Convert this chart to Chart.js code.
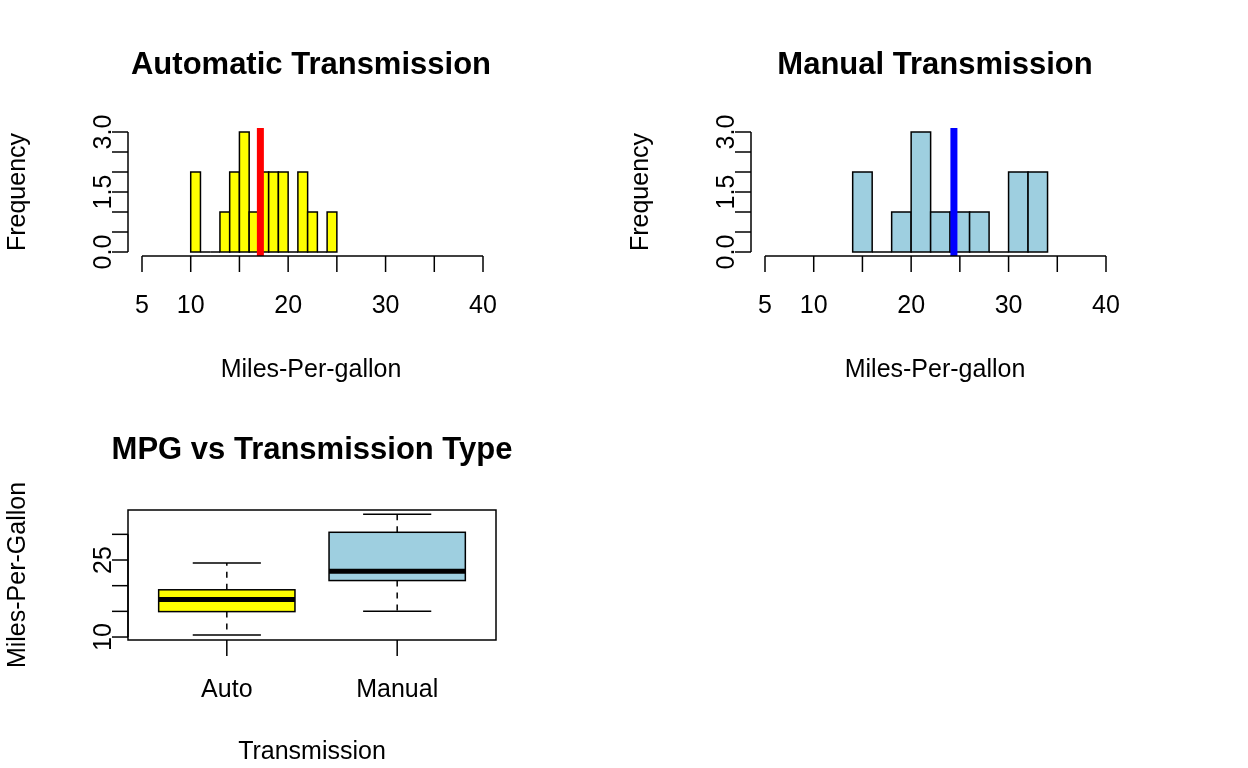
<!DOCTYPE html>
<html>
<head>
<meta charset="utf-8">
<script src="https://cdn.jsdelivr.net/npm/chart.js@4"></script>
<style>
  body { margin: 0; background: #fff; }
  .wrap { position: absolute; left: 0; top: 0; width: 1248px; height: 768px; }
  canvas { position: absolute; left: 0; top: 0; }
</style>
</head>
<body>
<div class="wrap"><canvas id="c1"></canvas></div>
<div class="wrap"><canvas id="c2"></canvas></div>
<div class="wrap"><canvas id="c3"></canvas></div>
<script>
// histogram bins (left edge, right edge, count)
const autoBinLo  = [10, 11, 12, 13, 14, 15, 16, 17, 18, 19, 20, 21, 22, 23, 24];
const autoCounts = [ 2,  0,  0,  1,  2,  3,  1,  2,  2,  2,  0,  2,  1,  0,  1];
const autoBinW = 1;
const autoMean = 17.15;

const manBinLo  = [14, 16, 18, 20, 22, 24, 26, 28, 30, 32];
const manCounts = [ 2,  0,  1,  3,  1,  1,  1,  0,  2,  2];
const manBinW = 2;
const manMean = 24.39;

const histXTicks = [5, 10, 15, 20, 25, 30, 35, 40];
const histXLabels = ['5', '10', '', '20', '', '30', '', '40'];
const histYTicks = [0, 0.5, 1, 1.5, 2, 2.5, 3];
const histYLabels = ['0.0', '', '', '1.5', '', '', '3.0'];

// boxplot stats: min, q1, median, q3, max
const boxCats = ['Auto', 'Manual'];
const boxMin = [10.4, 15.0];
const boxQ1  = [14.95, 21.0];
const boxMed = [17.3, 22.8];
const boxQ3  = [19.2, 30.4];
const boxMax = [24.4, 33.9];
const boxYTicks = [10, 15, 20, 25, 30];
const boxYLabels = ['10', '', '', '25', ''];

const FONT = '"Liberation Sans", Arial, sans-serif';

function text(ctx, s, x, y, size, bold, rot) {
  ctx.save();
  ctx.translate(x, y);
  if (rot) ctx.rotate(-Math.PI / 2);
  ctx.font = (bold ? 'bold ' : '') + size + 'px ' + FONT;
  ctx.fillStyle = '#000';
  ctx.textAlign = 'center';
  ctx.textBaseline = 'middle';
  ctx.fillText(s, 0, 0);
  ctx.restore();
}

// R base-graphics style drawing through the chart scales
const rPlot = {
  id: 'rPlot',
  afterDatasetsDraw(chart, args, o) {
    const ctx = chart.ctx, xs = chart.scales.x, ys = chart.scales.y;
    const a = chart.chartArea;
    ctx.save();
    ctx.lineWidth = 1.5;
    ctx.strokeStyle = '#000';
    if (o.hist) {
      const h = o.hist;
      h.lo.forEach((lo, i) => {
        const x0 = xs.getPixelForValue(lo), x1 = xs.getPixelForValue(lo + h.w);
        const y0 = ys.getPixelForValue(0), y1 = ys.getPixelForValue(h.counts[i]);
        ctx.fillStyle = h.color;
        ctx.fillRect(x0, y1, x1 - x0, y0 - y1);
        ctx.strokeRect(x0, y1, x1 - x0, y0 - y1);
      });
      ctx.fillStyle = h.lineColor;
      const mx = xs.getPixelForValue(h.mean);
      ctx.fillRect(mx - 3.5, ys.getPixelForValue(3.1), 7, ys.getPixelForValue(-0.1) - ys.getPixelForValue(3.1));
    }
    if (o.box) {
      const b = o.box;
      b.cats.forEach((c, i) => {
        const cx = xs.getPixelForValue(i + 1);
        const hw = xs.getPixelForValue(1.4) - xs.getPixelForValue(1);
        const sw = xs.getPixelForValue(1.2) - xs.getPixelForValue(1);
        const p = v => ys.getPixelForValue(v);
        ctx.setLineDash([6, 6]);
        ctx.beginPath();
        ctx.moveTo(cx, p(b.q3[i])); ctx.lineTo(cx, p(b.max[i]));
        ctx.moveTo(cx, p(b.q1[i])); ctx.lineTo(cx, p(b.min[i]));
        ctx.stroke();
        ctx.setLineDash([]);
        ctx.beginPath();
        ctx.moveTo(cx - sw, p(b.max[i])); ctx.lineTo(cx + sw, p(b.max[i]));
        ctx.moveTo(cx - sw, p(b.min[i])); ctx.lineTo(cx + sw, p(b.min[i]));
        ctx.stroke();
        ctx.fillStyle = b.colors[i];
        ctx.fillRect(cx - hw, p(b.q3[i]), 2 * hw, p(b.q1[i]) - p(b.q3[i]));
        ctx.strokeRect(cx - hw, p(b.q3[i]), 2 * hw, p(b.q1[i]) - p(b.q3[i]));
        ctx.lineWidth = 5;
        ctx.beginPath();
        ctx.moveTo(cx - hw, p(b.med[i])); ctx.lineTo(cx + hw, p(b.med[i]));
        ctx.stroke();
        ctx.lineWidth = 1.5;
      });
      ctx.strokeRect(a.left, a.top, a.right - a.left, a.bottom - a.top);
    }
    // x axis
    const xTickPx = o.xTicks.map(v => xs.getPixelForValue(v));
    const xAxY = a.bottom + o.xOff;
    if (o.xLine) {
      ctx.beginPath();
      ctx.moveTo(xTickPx[0], xAxY); ctx.lineTo(xTickPx[xTickPx.length - 1], xAxY);
      ctx.stroke();
    }
    xTickPx.forEach((px, i) => {
      ctx.beginPath(); ctx.moveTo(px, xAxY); ctx.lineTo(px, xAxY + 16); ctx.stroke();
      if (o.xLabels[i]) text(ctx, o.xLabels[i], px, xAxY + 50, 25, false, false);
    });
    // y axis
    const yTickPx = o.yTicks.map(v => ys.getPixelForValue(v));
    const yAxX = a.left - o.yOff;
    if (o.yLine) {
      ctx.beginPath();
      ctx.moveTo(yAxX, yTickPx[0]); ctx.lineTo(yAxX, yTickPx[yTickPx.length - 1]);
      ctx.stroke();
    }
    yTickPx.forEach((py, i) => {
      ctx.beginPath(); ctx.moveTo(yAxX, py); ctx.lineTo(yAxX - 16, py); ctx.stroke();
      if (o.yLabels[i]) text(ctx, o.yLabels[i], yAxX - 24, py, 25, false, true);
    });
    text(ctx, o.title, o.cx, o.titleY, 31, true, false);
    text(ctx, o.xlab, o.cx, o.xlabY, 25, false, false);
    text(ctx, o.ylab, o.ylabX, o.ylabY, 25, false, true);
    ctx.restore();
  }
};

function makeChart(id, pad, xr, yr, opts) {
  return new Chart(document.getElementById(id), {
    type: 'scatter',
    data: { datasets: [{ data: [], pointRadius: 0 }] },
    plugins: [rPlot],
    options: {
      responsive: true,
      maintainAspectRatio: false,
      animation: false,
      events: [],
      layout: { padding: pad },
      scales: {
        x: { type: 'linear', display: false, min: xr[0], max: xr[1] },
        y: { type: 'linear', display: false, min: yr[0], max: yr[1] }
      },
      plugins: { legend: { display: false }, tooltip: { enabled: false }, rPlot: opts }
    }
  });
}

makeChart('c1', { left: 142, right: 1248 - 483, top: 132, bottom: 768 - 252 }, [5, 40], [0, 3], {
  hist: { lo: autoBinLo, counts: autoCounts, w: autoBinW, color: '#ffff00', mean: autoMean, lineColor: '#ff0000' },
  xTicks: histXTicks, xLabels: histXLabels, yTicks: histYTicks, yLabels: histYLabels,
  xOff: 4, yOff: 14, xLine: true, yLine: true,
  title: 'Automatic Transmission', titleY: 65, cx: 311,
  xlab: 'Miles-Per-gallon', xlabY: 370, ylab: 'Frequency', ylabX: 18, ylabY: 192
});

makeChart('c2', { left: 765, right: 1248 - 1106, top: 132, bottom: 768 - 252 }, [5, 40], [0, 3], {
  hist: { lo: manBinLo, counts: manCounts, w: manBinW, color: '#9ecfe0', mean: manMean, lineColor: '#0000ff' },
  xTicks: histXTicks, xLabels: histXLabels, yTicks: histYTicks, yLabels: histYLabels,
  xOff: 4, yOff: 14, xLine: true, yLine: true,
  title: 'Manual Transmission', titleY: 65, cx: 935,
  xlab: 'Miles-Per-gallon', xlabY: 370, ylab: 'Frequency', ylabX: 641, ylabY: 192
});

makeChart('c3', { left: 128, right: 1248 - 496, top: 510, bottom: 768 - 640 }, [0.42, 2.58], [9.42, 34.74], {
  box: { cats: boxCats, min: boxMin, q1: boxQ1, med: boxMed, q3: boxQ3, max: boxMax, colors: ['#ffff00', '#9ecfe0'] },
  xTicks: [1, 2], xLabels: boxCats, yTicks: boxYTicks, yLabels: boxYLabels,
  xOff: 0, yOff: 0, xLine: false, yLine: true,
  title: 'MPG vs Transmission Type', titleY: 450, cx: 312,
  xlab: 'Transmission', xlabY: 752, ylab: 'Miles-Per-Gallon', ylabX: 18, ylabY: 575
});
</script>
</body>
</html>
